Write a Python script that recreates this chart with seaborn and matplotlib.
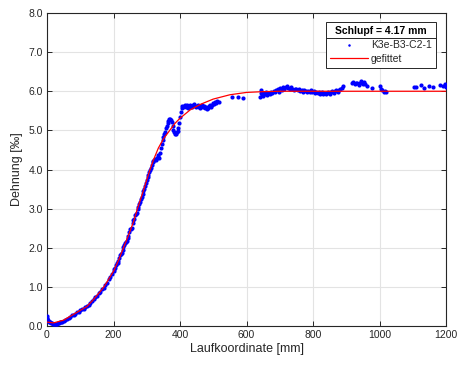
import matplotlib
matplotlib.use("Agg")
import matplotlib.pyplot as plt
import pandas as pd
import seaborn as sns
from matplotlib.lines import Line2D

# Measured strain along the running coordinate (sample K3e-B3-C2-1)
meas_x = [
    0, 0.5, 1, 2, 3, 4, 6, 8, 10, 13, 16, 19, 22, 25, 28, 31, 34, 37, 40, 43,
    46, 50, 55, 60, 65, 70, 75, 80, 85, 90, 95, 100, 105, 110, 115, 120, 125,
    130, 135, 140, 145, 150, 155, 160, 165, 170, 175, 180, 185, 190, 195, 200,
    202.5, 205, 207.5, 210, 212.5, 215, 217.5, 220, 222.5, 225, 227.5, 230,
    232.5, 235, 237.5, 240, 242.5, 245, 247.5, 250, 252.5, 255, 257.5, 260,
    262.5, 265, 267.5, 270, 272.5, 275, 277.5, 280,
    282.5, 285, 287.5, 290, 292.5, 295, 297.5, 300, 302.5, 305, 307.5, 310,
    312.5, 315, 317.5, 320, 322.5, 325, 327.5, 330, 332.5, 335, 337.5, 340,
    342.5, 345, 347.5, 350, 352.5, 355, 357.5, 360, 362.5, 365, 367.5, 370,
    372.5, 375, 377.5, 380, 382.5, 385, 387.5, 390, 392.5, 395, 397.5, 400,
    402.5, 405, 407.5, 410,
    412, 415, 418, 421, 424, 427, 430, 433, 436, 439, 442, 445, 448, 451, 454,
    457, 460, 463, 466, 469, 472, 475, 478, 481, 484, 487, 490, 493, 496, 499,
    502, 505, 508, 512, 516,
    557, 573, 589,
    641, 643, 645, 648, 651, 654, 657, 660, 663, 667, 670, 674, 678, 682, 686,
    690, 694, 698, 702, 706, 710, 714, 718, 722, 726, 730, 734, 738, 742, 746,
    750, 754, 758,
    762, 766, 770, 774, 778, 782, 786, 790, 794, 798, 802, 806, 810, 814, 818,
    822, 826, 830, 834, 838, 842, 846, 850, 854, 858, 862, 866, 870, 874, 878,
    882, 886, 890,
    917, 921, 925, 929, 933, 937, 941, 945, 949, 953, 957, 962,
    977, 1001, 1005, 1009, 1013, 1017, 1021,
    1103, 1110, 1125, 1135, 1150, 1160, 1182, 1190, 1196, 1199,
]
meas_y = [
    0.25, 0.21, 0.18, 0.16, 0.14, 0.12, 0.11, 0.10, 0.09, 0.08, 0.07, 0.06,
    0.05, 0.05, 0.06, 0.06, 0.07, 0.08, 0.09, 0.10,
    0.11, 0.13, 0.16, 0.19, 0.20, 0.23, 0.27, 0.28, 0.31, 0.36, 0.36, 0.41,
    0.43, 0.44, 0.49, 0.52, 0.54, 0.60, 0.63, 0.69, 0.74, 0.77, 0.84, 0.87,
    0.95, 0.98, 1.06, 1.10, 1.20, 1.25, 1.34, 1.41,
    1.45, 1.47, 1.55, 1.60, 1.62, 1.66, 1.75, 1.81, 1.83, 1.87, 1.95, 2.01,
    2.07, 2.13, 2.15, 2.17, 2.26, 2.30, 2.40, 2.47, 2.48, 2.51, 2.62, 2.70,
    2.74, 2.83, 2.86, 2.90, 2.99, 3.05, 3.12, 3.17,
    3.25, 3.30, 3.38, 3.45, 3.50, 3.58, 3.66, 3.72, 3.80, 3.86, 3.93, 3.98,
    4.05, 4.12, 4.18, 4.22, 4.25, 4.27, 4.25, 4.29, 4.33, 4.38, 4.30, 4.42,
    4.55, 4.66, 4.75, 4.82, 4.90, 4.95, 5.05, 5.12, 5.20, 5.25, 5.28, 5.30,
    5.27, 5.22, 5.12, 5.02, 4.95, 4.90, 4.92, 4.95, 4.98, 5.05, 5.20, 5.35,
    5.48, 5.58, 5.62, 5.60,
    5.62, 5.66, 5.60, 5.64, 5.58, 5.61, 5.65, 5.62, 5.60, 5.64, 5.67, 5.62,
    5.60, 5.63, 5.66, 5.61, 5.58, 5.62, 5.64, 5.60, 5.63, 5.57, 5.60, 5.55,
    5.58, 5.62, 5.65, 5.60, 5.66, 5.70, 5.68, 5.72, 5.70, 5.74, 5.72,
    5.85, 5.86, 5.82,
    5.85, 5.95, 6.02, 5.90, 5.88, 5.96, 5.92, 5.98, 5.90, 5.95, 5.93, 5.98,
    5.96, 6.00, 5.97,
    6.02, 6.05, 5.99, 6.08, 6.04, 6.10, 6.06, 6.12, 6.14, 6.08, 6.05, 6.10,
    6.07, 6.03, 6.07, 6.05, 6.02, 6.06,
    6.00, 6.03, 5.98, 6.02, 6.00, 5.97, 6.01, 5.99, 6.03, 5.98, 6.00, 5.96,
    5.99, 5.95, 5.98, 5.94, 5.97, 5.93, 5.96, 5.92, 5.95, 5.98, 5.94, 5.97,
    6.00, 5.96, 6.00, 6.03, 5.99, 6.04, 6.06, 6.09, 6.13,
    6.20, 6.24, 6.18, 6.22, 6.20, 6.16, 6.21, 6.25, 6.19, 6.23, 6.18, 6.14,
    6.08, 6.13, 6.07, 6.02, 5.98, 6.00, 5.97,
    6.12, 6.10, 6.15, 6.09, 6.13, 6.11, 6.17, 6.13, 6.19, 6.12,
]

# Fitted strain curve
fit_x = [0, 20, 50, 90, 120, 140, 160, 171, 180, 200, 215, 230, 245, 260,
         272, 285, 300, 310, 320, 335, 350, 370, 385, 400, 430, 460, 500,
         550, 600, 650, 700, 800, 1200]
fit_y = [0.10, 0.08, 0.15, 0.35, 0.50, 0.68, 0.88, 1.00, 1.12, 1.40, 1.68,
         2.00, 2.32, 2.66, 3.00, 3.33, 3.74, 4.00, 4.24, 4.55, 4.78, 5.01,
         5.18, 5.31, 5.52, 5.66, 5.80, 5.91, 5.97, 5.99, 6.00, 6.00, 6.00]

x_ticks = [0, 200, 400, 600, 800, 1000, 1200]
y_ticks = [0.0, 1.0, 2.0, 3.0, 4.0, 5.0, 6.0, 7.0, 8.0]
series_label = "K3e-B3-C2-1"
fit_label = "gefittet"
legend_title = "Schlupf = 4.17 mm"
x_label = "Laufkoordinate [mm]"
y_label = "Dehnung [‰]"

meas = pd.DataFrame({"x": meas_x, "y": meas_y})
fit = pd.DataFrame({"x": fit_x, "y": fit_y})

sns.set_style("ticks")
plt.rcParams["font.family"] = ["Liberation Sans", "DejaVu Sans"]
dark = "#262626"

fig = plt.figure(figsize=(4.57, 3.66), dpi=100)
ax = fig.add_axes([47 / 457, 1 - 326 / 366, 399 / 457, 313 / 366])

sns.scatterplot(data=meas, x="x", y="y", ax=ax, color="blue", s=9,
                linewidth=0, marker="o", label=series_label, zorder=3)
sns.lineplot(data=fit, x="x", y="y", ax=ax, color="red", linewidth=0.9,
             label=fit_label, zorder=4)

ax.set_xlim(0, 1200)
ax.set_ylim(0, 8)
ax.set_xticks(x_ticks)
ax.set_yticks(y_ticks)
ax.set_yticklabels([f"{v:.1f}" for v in y_ticks])
ax.grid(True, color="#e3e3e3", linewidth=0.8)
ax.set_axisbelow(True)
ax.tick_params(direction="in", length=3.5, width=0.7, colors=dark,
               labelsize=7.5, top=True, right=True, pad=3)
for s in ax.spines.values():
    s.set_visible(True)
    s.set_color(dark)
    s.set_linewidth(0.8)
ax.set_xlabel(x_label, fontsize=9, color=dark, labelpad=2)
ax.set_ylabel(y_label, fontsize=9, color=dark, labelpad=4)

leg = ax.legend(
    title=legend_title,
    title_fontproperties={"weight": "bold", "size": 7.5},
    fontsize=7.5, loc="upper right",
    bbox_to_anchor=(436 / 457, 1 - 22 / 366), bbox_transform=fig.transFigure,
    borderaxespad=0, fancybox=False, framealpha=1, edgecolor=dark,
    handlelength=3.6, handletextpad=0.3, labelspacing=0.38,
    borderpad=0.4, markerscale=0.6,
)
leg.get_frame().set_linewidth(0.7)
leg.get_title().set_color("black")

# divider between legend title and entries
fig.canvas.draw()
renderer = fig.canvas.get_renderer()
frame_bb = leg.get_frame().get_window_extent(renderer)
title_bb = leg.get_title().get_window_extent(renderer)
first_bb = leg.get_texts()[0].get_window_extent(renderer)
y_div = (title_bb.y0 + first_bb.y1) / 2
inv = fig.transFigure.inverted()
(x0, y0), (x1, _) = inv.transform([(frame_bb.x0, y_div), (frame_bb.x1, y_div)])
fig.add_artist(Line2D([x0, x1], [y0, y0], transform=fig.transFigure,
                      color=dark, linewidth=0.7, zorder=10))

fig.savefig("out.png", dpi=100)
